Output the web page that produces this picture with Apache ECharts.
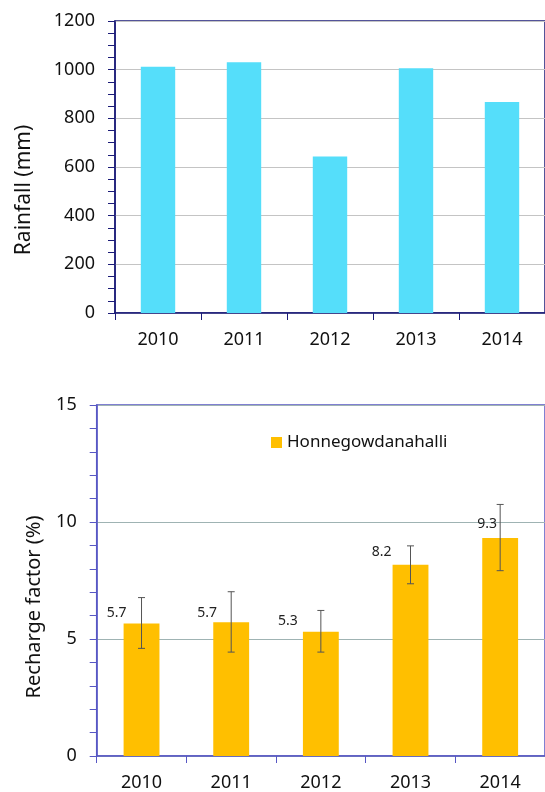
<!DOCTYPE html>
<html>
<head>
<meta charset="utf-8">
<script src="https://cdn.jsdelivr.net/npm/echarts@6/dist/echarts.min.js"></script>
<style>
    html, body { margin: 0; padding: 0; background: #fff; overflow: hidden; }
    #chart { width: 545px; height: 792px; }
</style>
</head>
<body>
<div id="chart"></div>
<script>
// data
const years = ["2010", "2011", "2012", "2013", "2014"];
const rainfall = [1012, 1030, 643, 1006, 867];
const recharge = [5.66, 5.72, 5.31, 8.17, 9.32];
const rechargeHigh = [6.77, 7.02, 6.22, 8.98, 10.75];
const rechargeLow = [4.6, 4.44, 4.44, 7.36, 7.92];
const rainTicks = [0, 200, 400, 600, 800, 1000, 1200];
const rechargeTicks = [0, 5, 10, 15];

// label nudges (Excel labels were dragged by hand)
const labelShift = [[-25, 1], [-24, 3], [-33, 1], [-29, -1], [-13, -1.5]];

const font = "Noto Sans";
const topAxis = "#1b1b78";
const botAxis = "#5757c4";

const chart = echarts.init(document.getElementById("chart"));

let options = {
    backgroundColor: "#fff",
    animation: false,
    textStyle: { fontFamily: font },
    grid: [
        {
            left: 115, top: 21, right: -11, height: 292,
            show: true, borderColor: topAxis, borderWidth: 1.5,
        },
        {
            left: 96.7, top: 405, right: -11, height: 354,
            show: true, borderColor: botAxis, borderWidth: 1.5,
        },
    ],
    legend: {
        data: ["Honnegowdanahalli"],
        left: 266,
        top: 429,
        icon: "rect",
        itemWidth: 11,
        itemHeight: 11,
        textStyle: { fontFamily: font, fontSize: 17, color: "#111" },
    },
    xAxis: [
        {
            type: "category", gridIndex: 0, data: years,
            axisLine: { lineStyle: { color: topAxis, width: 1.5 } },
            axisTick: { show: true, length: 7, lineStyle: { color: topAxis } },
            axisLabel: { margin: 18, fontSize: 18, color: "#111", fontFamily: font },
        },
        {
            type: "category", gridIndex: 1, data: years,
            axisLine: { lineStyle: { color: botAxis, width: 1.5 } },
            axisTick: { show: true, length: 7, lineStyle: { color: botAxis } },
            axisLabel: { margin: 18, fontSize: 18, color: "#111", fontFamily: font },
        },
    ],
    yAxis: [
        {
            type: "value", gridIndex: 0,
            min: rainTicks[0], max: rainTicks[rainTicks.length - 1],
            interval: rainTicks[1] - rainTicks[0],
            axisLine: { show: true, lineStyle: { color: topAxis, width: 1.5 } },
            axisTick: { show: true, length: 7, lineStyle: { color: topAxis } },
            minorTick: { show: true, splitNumber: 4, length: 7, lineStyle: { color: topAxis } },
            splitLine: { show: true, lineStyle: { color: "#c4c4c4", width: 1 } },
            axisLabel: {
                margin: 20, fontSize: 18, color: "#111", fontFamily: font,
                formatter: (v) => String(v),
            },
        },
        {
            type: "value", gridIndex: 1,
            min: rechargeTicks[0], max: rechargeTicks[rechargeTicks.length - 1],
            interval: rechargeTicks[1] - rechargeTicks[0],
            axisLine: { show: true, lineStyle: { color: botAxis, width: 1.5 } },
            axisTick: { show: true, length: 7, lineStyle: { color: botAxis } },
            minorTick: { show: true, splitNumber: 5, length: 7, lineStyle: { color: botAxis } },
            splitLine: { show: true, lineStyle: { color: "#9fb3b3", width: 1 } },
            axisLabel: { margin: 20, fontSize: 18, color: "#111", fontFamily: font },
        },
    ],
    graphic: [
        {
            type: "text", x: 24, y: 190, rotation: Math.PI / 2,
            style: {
                text: "Rainfall (mm)", font: "21px '" + font + "'", fill: "#111",
                textAlign: "center", textVerticalAlign: "middle",
            },
        },
        {
            type: "text", x: 34, y: 607, rotation: Math.PI / 2,
            style: {
                text: "Recharge factor (%)", font: "20px '" + font + "'", fill: "#111",
                textAlign: "center", textVerticalAlign: "middle",
            },
        },
    ],
    series: [
        {
            type: "bar", xAxisIndex: 0, yAxisIndex: 0,
            data: rainfall, barWidth: "40%",
            itemStyle: { color: "#55defa" },
        },
        {
            name: "Honnegowdanahalli",
            type: "bar", xAxisIndex: 1, yAxisIndex: 1,
            barWidth: "40%",
            itemStyle: { color: "#ffbf00" },
            data: recharge.map((v, i) => ({
                value: v,
                label: { offset: labelShift[i] },
            })),
            label: {
                show: true, position: "top", distance: 5,
                fontSize: 14, color: "#222", fontFamily: font,
                formatter: (p) => p.value.toFixed(1),
            },
        },
        {
            type: "custom", xAxisIndex: 1, yAxisIndex: 1, z: 5,
            encode: { x: 0, y: [1, 2] },
            data: years.map((y, i) => [i, rechargeHigh[i], rechargeLow[i]]),
            renderItem: function (params, api) {
                const hi = api.coord([api.value(0), api.value(1)]);
                const lo = api.coord([api.value(0), api.value(2)]);
                const c = 3.5;
                const st = { stroke: "#555", lineWidth: 1 };
                return {
                    type: "group",
                    children: [
                        { type: "line", shape: { x1: hi[0], y1: hi[1], x2: lo[0], y2: lo[1] }, style: st },
                        { type: "line", shape: { x1: hi[0] - c, y1: hi[1], x2: hi[0] + c, y2: hi[1] }, style: st },
                        { type: "line", shape: { x1: lo[0] - c, y1: lo[1], x2: lo[0] + c, y2: lo[1] }, style: st },
                    ],
                };
            },
        },
    ],
};
chart.setOption(options);
</script>
</body>
</html>
